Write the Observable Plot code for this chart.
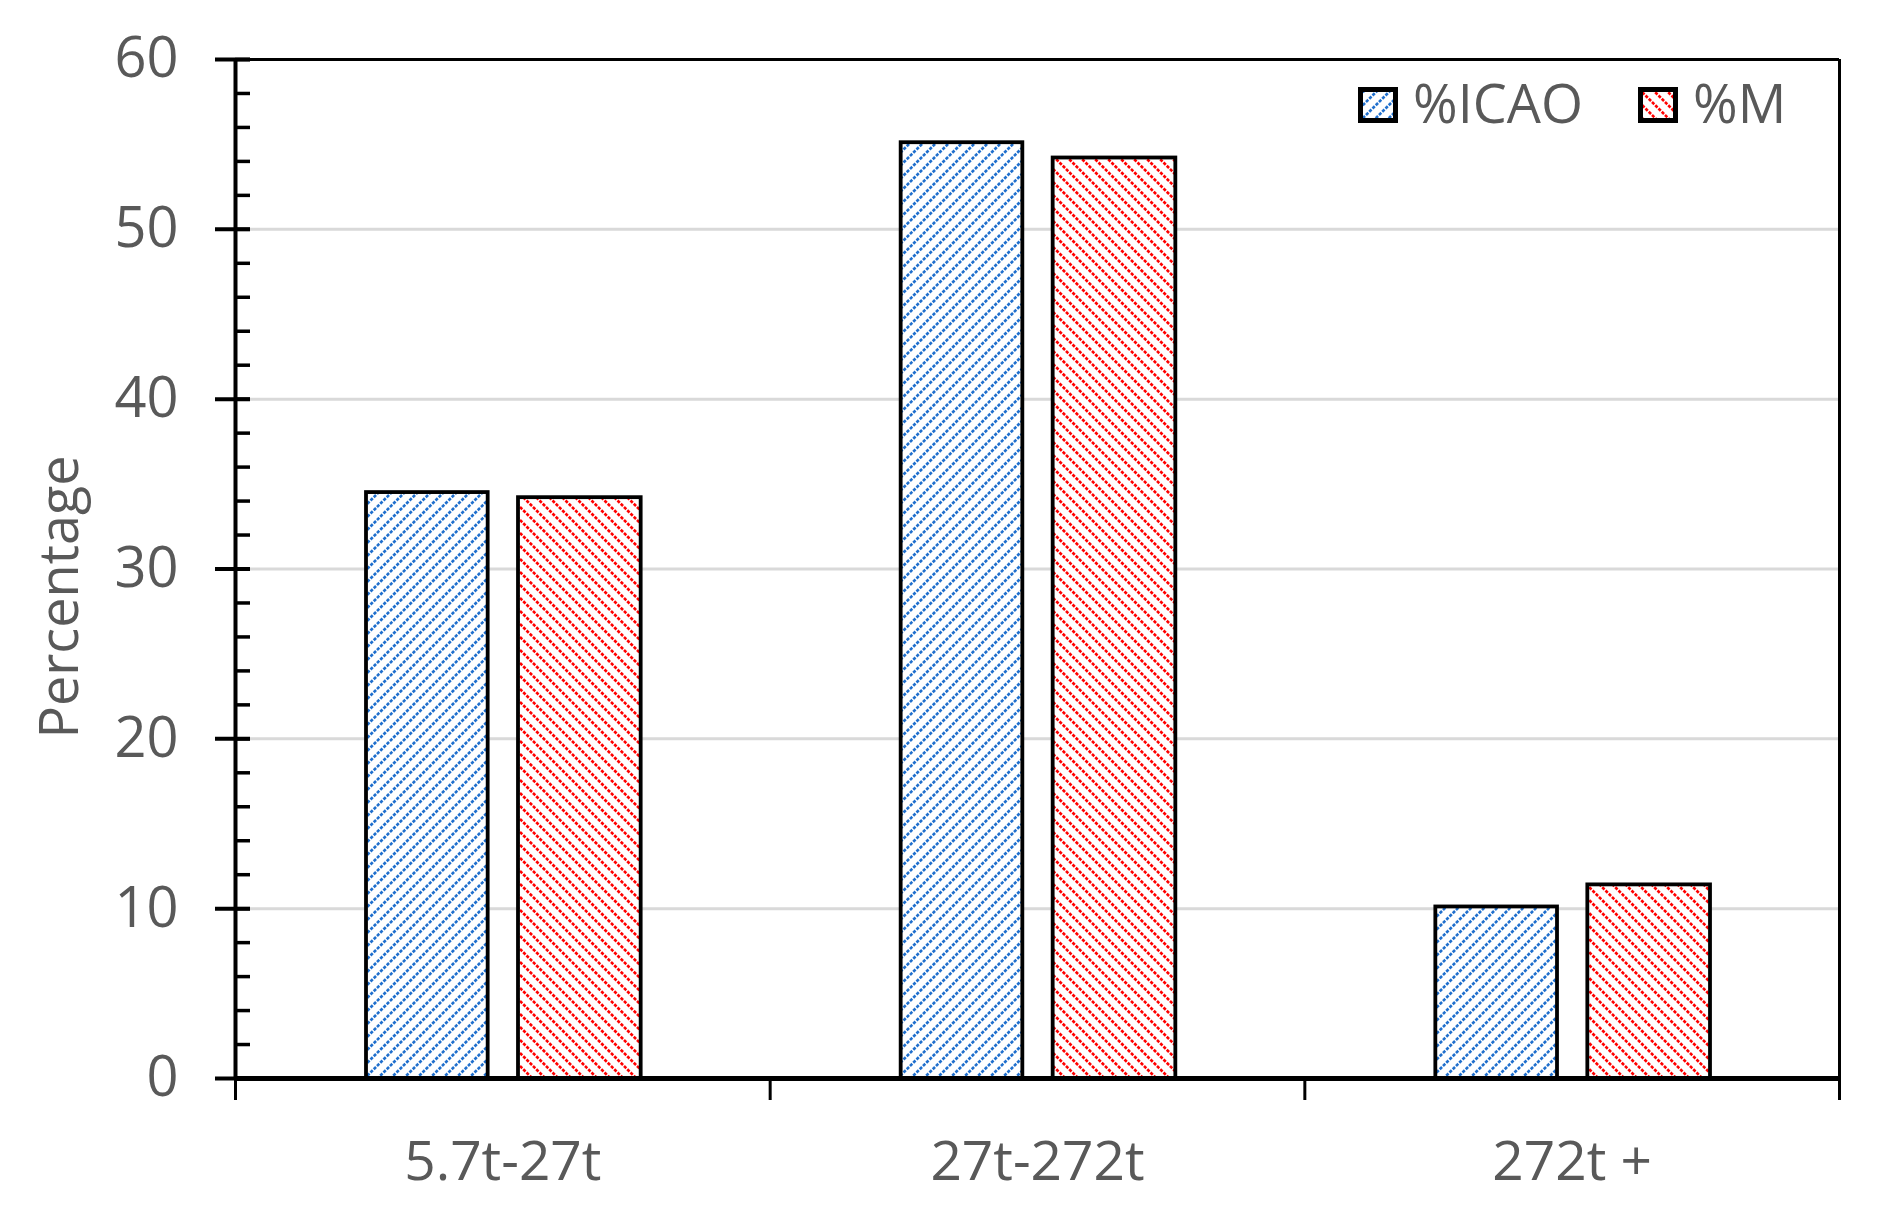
<!DOCTYPE html>
<html>
<head>
<meta charset="utf-8">
<script src="https://cdn.jsdelivr.net/npm/d3@7"></script>
<script src="https://cdn.jsdelivr.net/npm/@observablehq/plot@0.6"></script>
<style>
  html, body { margin: 0; padding: 0; background: #ffffff; }
  #wrap { position: relative; width: 1882px; height: 1214px; font-family: 'Open Sans', sans-serif; }
  #legend { position: absolute; left: 1340px; top: 50px; overflow: visible; }
</style>
</head>
<body>
<svg width="0" height="0" style="position:absolute">
  <defs>
    <pattern id="hatch-icao" patternUnits="userSpaceOnUse" width="13" height="13">
      <rect width="13" height="13" fill="#ffffff"/>
      <path d="M-3.25,3.25 L3.25,-3.25 M0,13 L13,0 M9.75,16.25 L16.25,9.75" stroke="#1f6fcd" stroke-width="2.6" stroke-dasharray="3.2 1.4"/>
    </pattern>
    <pattern id="hatch-m" patternUnits="userSpaceOnUse" width="13" height="13">
      <rect width="13" height="13" fill="#ffffff"/>
      <path d="M-3.25,9.75 L3.25,16.25 M0,0 L13,13 M9.75,-3.25 L16.25,3.25" stroke="#ff0000" stroke-width="2.6" stroke-dasharray="3.2 1.4"/>
    </pattern>
  </defs>
</svg>
<div id="wrap">
  <svg id="legend" width="520" height="110">
    <rect x="20.5" y="39.5" width="35" height="31" fill="url(#hatch-icao)" stroke="#000" stroke-width="5"/>
    <text x="73" y="73" font-family="'Open Sans', sans-serif" font-size="54" fill="#595959">%ICAO</text>
    <rect x="300.5" y="39.5" width="35" height="31" fill="url(#hatch-m)" stroke="#000" stroke-width="5"/>
    <text x="353" y="73" font-family="'Open Sans', sans-serif" font-size="54" fill="#595959">%M</text>
  </svg>
</div>
<script>
// ---- data ----
const categories = ["5.7t-27t", "27t-272t", "272t +"];
const seriesNames = ["%ICAO", "%M"];
const icaoValues = [34.5, 55.1, 10.1];
const mValues = [34.2, 54.2, 11.4];
const yMajorTicks = [0, 10, 20, 30, 40, 50, 60];
const yMinorTicks = d3.range(0, 61, 2);
const yGridTicks = [10, 20, 30, 40, 50];

const rows = categories.flatMap((c, i) => [
  {cat: c, i, series: seriesNames[0], value: icaoValues[i]},
  {cat: c, i, series: seriesNames[1], value: mValues[i]}
]);
const boundaries = d3.range(categories.length + 1);
const centers = categories.map((_, i) => i + 0.5);

const chart = Plot.plot({
  width: 1882,
  height: 1214,
  marginLeft: 235,
  marginRight: 43,
  marginTop: 59,
  marginBottom: 136,
  x: {domain: [0, categories.length], axis: null, label: null},
  y: {domain: [0, 60], axis: null, label: null},
  style: {fontFamily: "'Open Sans', sans-serif", background: "#ffffff", color: "#000000", overflow: "visible"},
  marks: [
    Plot.gridY(yGridTicks, {stroke: "#d9d9d9", strokeWidth: 3, strokeOpacity: 1}),
    Plot.rectY(rows.filter(d => d.series === seriesNames[0]), {
      x1: "i", x2: d => d.i + 1, y: "value",
      fill: "url(#hatch-icao)", stroke: "#000000", strokeWidth: 3.8,
      insetLeft: 131, insetRight: 282
    }),
    Plot.rectY(rows.filter(d => d.series === seriesNames[1]), {
      x1: "i", x2: d => d.i + 1, y: "value",
      fill: "url(#hatch-m)", stroke: "#000000", strokeWidth: 3.8,
      insetLeft: 283, insetRight: 129
    }),
    Plot.ruleX([categories.length], {stroke: "#000000", strokeWidth: 3}),
    Plot.ruleY([60], {stroke: "#000000", strokeWidth: 3}),
    Plot.ruleX([0], {stroke: "#000000", strokeWidth: 4}),
    Plot.ruleY([0], {stroke: "#000000", strokeWidth: 5}),
    Plot.axisY({
      ticks: yMajorTicks, tickSize: 35, dx: 15, tickPadding: 37,
      stroke: "#000000", strokeWidth: 4, fill: "#595959", fontSize: 56,
      tickFormat: d => String(d), label: null
    }),
    Plot.axisY({
      ticks: yMinorTicks, tickSize: 15, dx: 15,
      stroke: "#000000", strokeWidth: 3.5, tickFormat: () => "", label: null
    }),
    Plot.axisX({
      ticks: boundaries, tickSize: 22, stroke: "#000000", strokeWidth: 3,
      tickFormat: () => "", label: null
    }),
    Plot.axisX({
      ticks: centers, tickSize: 0, tickPadding: 62, fill: "#595959", fontSize: 55,
      tickFormat: v => categories[Math.floor(v)], label: null
    }),
    Plot.text(["Percentage"], {
      frameAnchor: "left", rotate: -90, dx: -175, dy: 28,
      fontSize: 54, fill: "#595959", lineAnchor: "middle", textAnchor: "middle", text: d => d
    })
  ]
});

document.getElementById("wrap").insertBefore(chart, document.getElementById("legend"));
chart.style.position = "absolute";
chart.style.left = "0px";
chart.style.top = "0px";
</script>
</body>
</html>
